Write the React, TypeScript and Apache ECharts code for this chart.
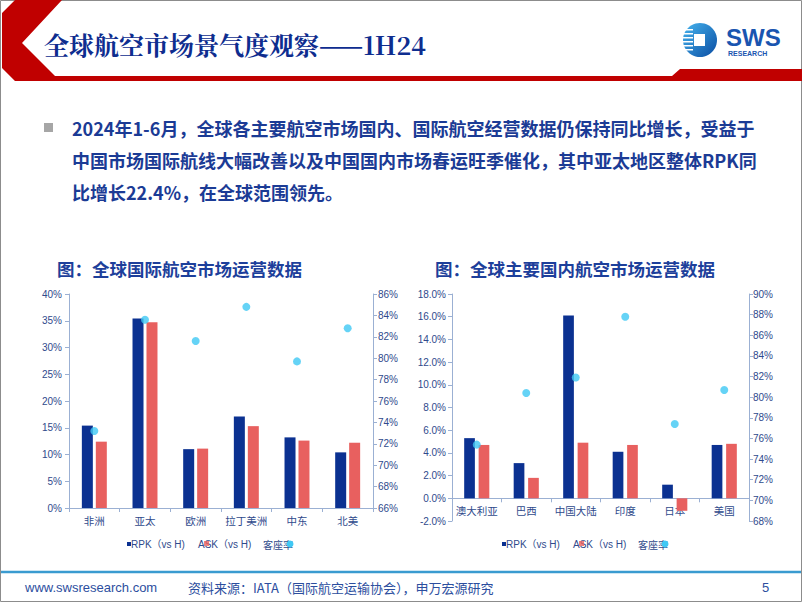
import React, { useEffect, useRef } from "react";
import * as echarts from "echarts";

// ---------- data ----------
const intlCategories = ["非洲", "亚太", "欧洲", "拉丁美洲", "中东", "北美"];
const intlRPK = [15.4, 35.4, 11.0, 17.1, 13.2, 10.4];
const intlASK = [12.4, 34.7, 11.1, 15.3, 12.6, 12.2];
const intlLF = [73.2, 83.6, 81.6, 84.8, 79.7, 82.8];

const domCategories = ["澳大利亚", "巴西", "中国大陆", "印度", "日本", "美国"];
const domRPK = [5.3, 3.1, 16.1, 4.1, 1.2, 4.7];
const domASK = [4.7, 1.8, 4.9, 4.7, -1.1, 4.8];
const domLF = [75.4, 80.4, 81.9, 87.8, 77.4, 80.7];

const intlLeftRange = [0, 40, 5];
const intlRightRange = [66, 86, 2];
const domLeftRange = [-2, 18, 2];
const domRightRange = [68, 90, 2];

const seriesNames = ["RPK（vs H)", "ASK（vs H)", "客座率"];

const pageTitle = "全球航空市场景气度观察——1H24";
const bodyLines = [
  "2024年1-6月，全球各主要航空市场国内、国际航空经营数据仍保持同比增长，受益于",
  "中国市场国际航线大幅改善以及中国国内市场春运旺季催化，其中亚太地区整体RPK同",
  "比增长22.4%，在全球范围领先。",
];
const chartTitles = ["图：全球国际航空市场运营数据", "图：全球主要国内航空市场运营数据"];
const footerSite = "www.swsresearch.com";
const footerSource = "资料来源：IATA（国际航空运输协会），申万宏源研究";
const pageNumber = "5";

// ---------- styles ----------
const NAVY = "#0b3191";
const SALMON = "#e8605f";
const CYAN = "#3fc8f4";
const AXIS = "#9bb0d3";
const LABEL = "#2f4a8c";
const TEXT_BLUE = "#1b3b95";
const SANS = "'Liberation Sans', Arial, 'Noto Sans CJK SC', sans-serif";
const CJK = "'Noto Sans CJK SC', 'Liberation Sans', sans-serif";

const GRID1 = { left: 69, top: 294, width: 304, height: 214 };
const GRID2 = { left: 452, top: 294, width: 297, height: 227 };

function valueAxis(gridIndex: number, range: number[], position: string, fmt: (v: number) => string, margin: number) {
  return {
    type: "value",
    gridIndex,
    min: range[0],
    max: range[1],
    interval: range[2],
    position,
    axisLine: { show: true, lineStyle: { color: AXIS, width: 1 } },
    axisTick: { show: true, length: 4, lineStyle: { color: AXIS } },
    splitLine: { show: false },
    axisLabel: { color: LABEL, fontSize: 10, fontFamily: SANS, margin, formatter: fmt },
  };
}

function catAxis(gridIndex: number, data: string[], offset: number) {
  return {
    type: "category",
    gridIndex,
    data,
    offset,
    axisLine: { show: true, onZero: false, lineStyle: { color: AXIS, width: 1 } },
    axisTick: { show: true, length: 4, lineStyle: { color: AXIS } },
    axisLabel: { color: LABEL, fontSize: 10.5, fontFamily: CJK, margin: 7, interval: 0 },
  };
}

function legendGraphics(x0: number, y: number) {
  return [
    { type: "rect", shape: { x: x0, y: y - 2, width: 4, height: 4 }, style: { fill: NAVY } },
    { type: "text", x: x0 + 4, y, style: { text: seriesNames[0], fill: LABEL, font: `10px ${SANS}`, verticalAlign: "middle" } },
    { type: "text", x: x0 + 71, y, style: { text: seriesNames[1], fill: LABEL, font: `10px ${SANS}`, verticalAlign: "middle" } },
    { type: "rect", shape: { x: x0 + 77, y: y - 3, width: 5, height: 5 }, style: { fill: SALMON, opacity: 0.8 } },
    { type: "text", x: x0 + 136, y, style: { text: seriesNames[2], fill: LABEL, font: `10px ${CJK}`, verticalAlign: "middle" } },
    { type: "circle", shape: { cx: x0 + 163, cy: y, r: 3.5 }, style: { fill: CYAN } },
  ];
}

export default function App() {
  const ref = useRef<HTMLDivElement>(null);

  useEffect(() => {
    if (!ref.current) return;
    const chart = echarts.init(ref.current, null, { renderer: "svg" });

    // place the domestic chart's category axis on the 0% line
    const domZeroOffset = -((0 - domLeftRange[0]) / (domLeftRange[1] - domLeftRange[0])) * GRID2.height;

    const logoStripes = [29, 33, 37, 41, 45, 49].map((y) => ({
      type: "rect",
      shape: { x: 683, y, width: 10, height: 1.5 },
      style: { fill: "#ffffff" },
    }));

    const option: any = {
      animation: false,
      backgroundColor: "#ffffff",
      grid: [GRID1, GRID2],
      xAxis: [catAxis(0, intlCategories, 0), catAxis(1, domCategories, domZeroOffset)],
      yAxis: [
        valueAxis(0, intlLeftRange, "left", (v: number) => `${v}%`, 7),
        valueAxis(0, intlRightRange, "right", (v: number) => `${v}%`, 5),
        valueAxis(1, domLeftRange, "left", (v: number) => `${v.toFixed(1)}%`, 6),
        valueAxis(1, domRightRange, "right", (v: number) => `${v}%`, 4),
      ],
      series: [
        { name: seriesNames[0], type: "bar", xAxisIndex: 0, yAxisIndex: 0, data: intlRPK, barWidth: 11, barGap: "27%", itemStyle: { color: NAVY } },
        { name: seriesNames[1], type: "bar", xAxisIndex: 0, yAxisIndex: 0, data: intlASK, barWidth: 11, barGap: "27%", itemStyle: { color: SALMON } },
        { name: seriesNames[2], type: "scatter", xAxisIndex: 0, yAxisIndex: 1, data: intlLF, symbolSize: 8, itemStyle: { color: CYAN } },
        { name: seriesNames[0], type: "bar", xAxisIndex: 1, yAxisIndex: 2, data: domRPK, barWidth: 10.7, barGap: "35%", itemStyle: { color: NAVY } },
        { name: seriesNames[1], type: "bar", xAxisIndex: 1, yAxisIndex: 2, data: domASK, barWidth: 10.7, barGap: "35%", itemStyle: { color: SALMON } },
        { name: seriesNames[2], type: "scatter", xAxisIndex: 1, yAxisIndex: 3, data: domLF, symbolSize: 8, itemStyle: { color: CYAN } },
      ],
      graphic: [
        // page border
        { type: "rect", shape: { x: 0.5, y: 0.5, width: 801, height: 601 }, style: { fill: "none", stroke: "#8c8c8c", lineWidth: 1 } },
        // header red shape
        {
          type: "polygon",
          shape: {
            points: [
              [15, 0], [62, 0], [22, 43], [55, 76], [672, 76], [680, 69], [802, 69], [802, 81], [15, 81], [2, 68], [2, 13],
            ],
          },
          style: { fill: "#c00000" },
        },
        {
          type: "text",
          x: 44,
          y: 44,
          style: {
            text: pageTitle,
            fill: "#0e2d8f",
            font: `bold 25px 'Noto Serif CJK SC', 'Liberation Serif', 'Noto Sans CJK SC', serif`,
            verticalAlign: "middle",
          },
        },
        // logo
        {
          type: "circle",
          shape: { cx: 700, cy: 40, r: 17 },
          style: {
            fill: new echarts.graphic.LinearGradient(0, 0, 1, 1, [
              { offset: 0, color: "#46b4ee" },
              { offset: 1, color: "#0a4da3" },
            ]),
          },
        },
        ...logoStripes,
        { type: "rect", shape: { x: 694, y: 34, width: 11, height: 12 }, style: { fill: "#ffffff" } },
        { type: "text", x: 726, y: 37, style: { text: "SWS", fill: "#1a55b0", font: `900 24px ${SANS}`, verticalAlign: "middle" } },
        { type: "text", x: 728, y: 53.5, style: { text: "RESEARCH", fill: "#1a55b0", font: `bold 7px ${SANS}`, verticalAlign: "middle" } },
        // bullet & body
        { type: "rect", shape: { x: 44, y: 123, width: 9, height: 9 }, style: { fill: "#a6a6a6" } },
        ...bodyLines.map((t, i) => ({
          type: "text",
          x: 72,
          y: 128 + i * 32,
          style: { text: t, fill: TEXT_BLUE, font: `bold 18px ${CJK}`, verticalAlign: "middle" },
        })),
        // chart titles
        { type: "text", x: 57, y: 268, style: { text: chartTitles[0], fill: "#1d3f9b", font: `bold 17.5px ${CJK}`, verticalAlign: "middle" } },
        { type: "text", x: 435, y: 268, style: { text: chartTitles[1], fill: "#1d3f9b", font: `bold 17.5px ${CJK}`, verticalAlign: "middle" } },
        // legends
        ...legendGraphics(127, 544),
        ...legendGraphics(502, 544),
        // footer
        { type: "line", shape: { x1: 1, y1: 572, x2: 801, y2: 572 }, style: { stroke: "#3a9bd0", lineWidth: 2.5 } },
        { type: "text", x: 25, y: 587, style: { text: footerSite, fill: "#2c4e9e", font: `13px ${SANS}`, verticalAlign: "middle" } },
        { type: "text", x: 188, y: 587, style: { text: footerSource, fill: "#2c4e9e", font: `13px ${CJK}`, verticalAlign: "middle" } },
        { type: "text", x: 762, y: 587, style: { text: pageNumber, fill: "#2c4e9e", font: `13px ${SANS}`, verticalAlign: "middle" } },
      ],
    };

    chart.setOption(option);
    return () => chart.dispose();
  }, []);

  return <div ref={ref} style={{ position: "fixed", left: 0, top: 0, width: 802, height: 602 }} />;
}
